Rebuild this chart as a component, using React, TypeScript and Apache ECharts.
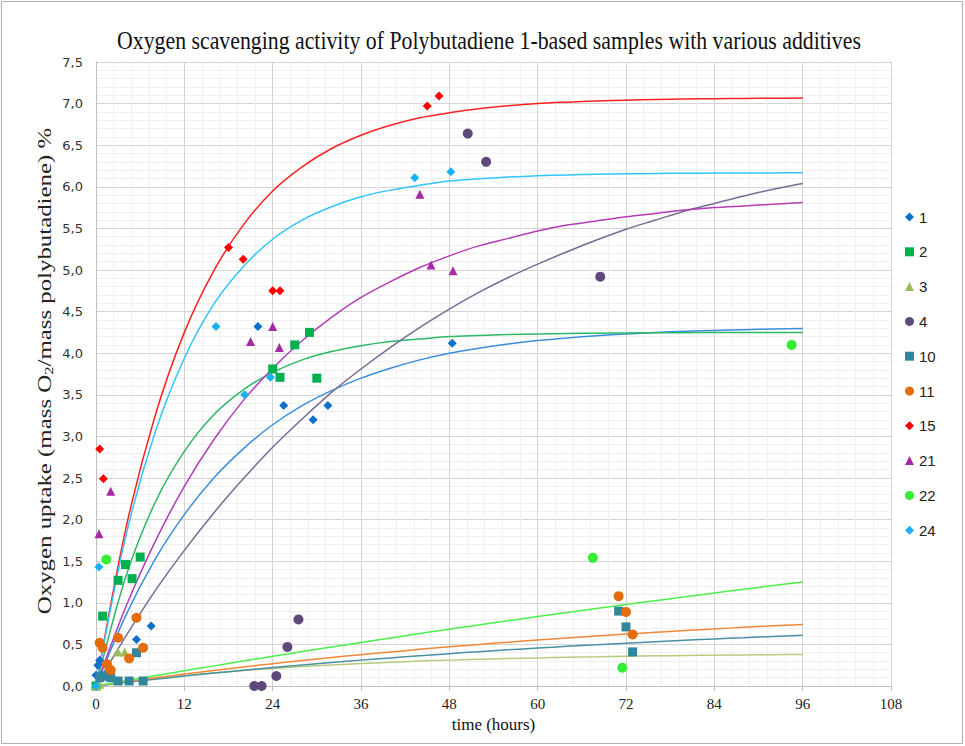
import React, { useEffect, useRef } from "react";
import * as echarts from "echarts";

// Series names (legend)
const SERIES_NAMES = ["1", "2", "3", "4", "10", "11", "15", "21", "22", "24"];

// Measured points [time (h), uptake %]
const S1 = [[0, 0.13], [0.25, 0.25], [0.5, 0.31], [5.5, 0.56], [7.5, 0.72], [22, 4.32], [25.5, 3.37], [29.5, 3.2], [31.5, 3.37], [48.4, 4.12]];
const S2 = [[0, 0], [0.9, 0.84], [3, 1.27], [4, 1.46], [4.9, 1.29], [6, 1.55], [24, 3.81], [25, 3.71], [27, 4.1], [29, 4.25], [30, 3.7]];
const S3 = [[0, 0], [0.5, 0.02], [3, 0.41], [3.9, 0.41]];
const S4 = [[21.5, 0], [22.5, 0], [24.5, 0.12], [26, 0.47], [27.5, 0.8], [50.5, 6.64], [53, 6.3], [68.5, 4.92]];
const S10 = [[0.5, 0.1], [1, 0.12], [1.5, 0.12], [2, 0.1], [3, 0.06], [4.5, 0.06], [5.5, 0.4], [6.4, 0.06], [71, 0.9], [72, 0.71], [72.9, 0.41]];
const S11 = [[0.5, 0.52], [0.9, 0.46], [1.5, 0.26], [2, 0.19], [3, 0.58], [4.5, 0.33], [5.5, 0.82], [6.4, 0.46], [71, 1.08], [72, 0.89], [72.9, 0.62]];
const S15 = [[0.5, 2.85], [1, 2.49], [18, 5.27], [20, 5.13], [24, 4.75], [25, 4.75], [45, 6.97], [46.6, 7.09]];
const S21 = [[0.4, 1.83], [2, 2.34], [21, 4.14], [24, 4.32], [24.9, 4.07], [44, 5.91], [45.5, 5.06], [48.5, 4.99]];
const S22 = [[1.4, 1.52], [67.5, 1.54], [71.5, 0.22], [94.5, 4.1]];
const S24 = [[0, 0], [0.4, 1.43], [16.3, 4.32], [20.2, 3.5], [23.7, 3.71], [43.3, 6.11], [48.2, 6.18]];

// Trend curves every 4 hours (0 … 96)
const CURVE_T = [0, 4, 8, 12, 16, 20, 24, 28, 32, 36, 40, 44, 48, 52, 56, 60, 64, 68, 72, 76, 80, 84, 88, 92, 96];
const C1 = [0, 0.84, 1.52, 2.06, 2.5, 2.85, 3.14, 3.37, 3.55, 3.7, 3.82, 3.92, 4.0, 4.06, 4.11, 4.152, 4.184, 4.21, 4.231, 4.249, 4.263, 4.274, 4.283, 4.29, 4.296];
const C2 = [0, 1.3, 2.2, 2.82, 3.26, 3.56, 3.77, 3.92, 4.02, 4.09, 4.14, 4.17, 4.2, 4.213, 4.224, 4.232, 4.237, 4.241, 4.244, 4.246, 4.247, 4.248, 4.249, 4.249, 4.25];
const C3 = [0, 0.047, 0.088, 0.125, 0.157, 0.186, 0.211, 0.233, 0.253, 0.27, 0.285, 0.299, 0.311, 0.321, 0.33, 0.338, 0.346, 0.352, 0.358, 0.363, 0.367, 0.371, 0.374, 0.377, 0.38];
const C4 = [0, 0.59, 1.14, 1.63, 2.08, 2.49, 2.87, 3.21, 3.53, 3.81, 4.07, 4.31, 4.53, 4.73, 4.91, 5.07, 5.22, 5.36, 5.49, 5.6, 5.71, 5.8, 5.89, 5.97, 6.04];
const C10 = [0, 0.042, 0.081, 0.119, 0.155, 0.189, 0.222, 0.253, 0.283, 0.311, 0.338, 0.364, 0.389, 0.413, 0.435, 0.456, 0.477, 0.496, 0.515, 0.533, 0.55, 0.566, 0.581, 0.596, 0.61];
const C11 = [0, 0.05, 0.098, 0.143, 0.187, 0.228, 0.268, 0.306, 0.342, 0.377, 0.409, 0.441, 0.471, 0.499, 0.527, 0.553, 0.578, 0.601, 0.624, 0.646, 0.666, 0.686, 0.705, 0.723, 0.74];
const C15 = [0, 1.87, 3.24, 4.25, 4.99, 5.54, 5.95, 6.24, 6.46, 6.62, 6.74, 6.83, 6.89, 6.938, 6.973, 7.0, 7.017, 7.031, 7.041, 7.049, 7.055, 7.059, 7.062, 7.064, 7.066];
const C21 = [0, 0.94, 1.73, 2.4, 2.96, 3.43, 3.82, 4.15, 4.43, 4.67, 4.86, 5.03, 5.17, 5.29, 5.38, 5.47, 5.54, 5.59, 5.64, 5.68, 5.72, 5.75, 5.77, 5.79, 5.81];
const C22 = [0, 0.062, 0.123, 0.183, 0.242, 0.3, 0.357, 0.414, 0.469, 0.524, 0.578, 0.631, 0.683, 0.734, 0.785, 0.834, 0.883, 0.932, 0.979, 1.026, 1.072, 1.118, 1.163, 1.207, 1.25];
const C24 = [0, 1.78, 3.04, 3.94, 4.59, 5.04, 5.37, 5.6, 5.76, 5.88, 5.96, 6.02, 6.07, 6.096, 6.117, 6.132, 6.143, 6.151, 6.156, 6.16, 6.163, 6.165, 6.166, 6.167, 6.168];

const POINTS = [S1, S2, S3, S4, S10, S11, S15, S21, S22, S24];
const CURVES = [C1, C2, C3, C4, C10, C11, C15, C21, C22, C24];

const MARKER_COLORS = ["#0B6FCB", "#00B050", "#9BBB59", "#5F497A", "#31859C", "#E46C0A", "#FF0000", "#A62AA6", "#33EE33", "#1AB0F5"];
const LINE_COLORS = ["#3A8EDC", "#2DB865", "#B5CC7F", "#7A6B92", "#4A8FA3", "#F0883A", "#FF2020", "#B43CB8", "#4CF04C", "#33C4FF"];
const SYMBOLS = ["diamond", "rect", "triangle", "circle", "rect", "circle", "diamond", "triangle", "circle", "diamond"];
const SYMBOL_SIZES = [9, 9, 9, 10, 9, 10, 9, 9, 10, 9];

const TITLE = "Oxygen scavenging activity of Polybutadiene 1-based samples with various additives";

export default function App() {
  const ref = useRef<HTMLDivElement>(null);
  useEffect(() => {
    document.body.style.margin = "0";
    if (!ref.current) return;
    const chart = echarts.init(ref.current, null, { renderer: "svg" });

    const lineSeries = CURVES.map((c, i) => ({
      name: SERIES_NAMES[i] + " trend",
      type: "line",
      data: CURVE_T.map((t, j) => [t, c[j]]),
      showSymbol: false,
      symbol: "none",
      smooth: 0.3,
      silent: true,
      z: 2,
      lineStyle: { color: LINE_COLORS[i], width: 1.5 },
      itemStyle: { color: LINE_COLORS[i] },
    }));

    const scatterSeries = POINTS.map((p, i) => ({
      name: SERIES_NAMES[i],
      type: "scatter",
      data: p,
      symbol: SYMBOLS[i],
      symbolSize: SYMBOL_SIZES[i],
      z: 3,
      itemStyle: { color: MARKER_COLORS[i], opacity: 1 },
    }));

    chart.setOption({
      animation: false,
      backgroundColor: "#ffffff",
      grid: { left: 96, right: 74, top: 62, bottom: 60, containLabel: false },
      legend: {
        data: SERIES_NAMES,
        orient: "vertical",
        left: 900,
        top: 204,
        itemWidth: 9,
        itemHeight: 9,
        itemGap: 18.8,
        textStyle: { fontFamily: "Liberation Sans", fontSize: 15, color: "#222", lineHeight: 16 },
        selectedMode: false,
      },
      xAxis: {
        type: "value",
        min: 0,
        max: 108,
        interval: 12,
        name: "time (hours)",
        nameLocation: "middle",
        nameGap: 27,
        nameTextStyle: { fontFamily: "Liberation Serif", fontSize: 17, color: "#111" },
        axisLine: { show: true, onZero: false, lineStyle: { color: "#BFBFBF", width: 1 } },
        axisTick: { show: true, length: 5, lineStyle: { color: "#BFBFBF" } },
        axisLabel: { fontFamily: "Liberation Serif", fontSize: 15, color: "#222", margin: 10 },
        splitLine: { show: true, lineStyle: { color: "#D4D4D4", width: 1 } },
        minorTick: { show: false, splitNumber: 5 },
        minorSplitLine: { show: true, lineStyle: { color: "#F0F0F0", width: 1 } },
      },
      yAxis: {
        type: "value",
        min: 0,
        max: 7.5,
        interval: 0.5,
        axisLine: { show: true, lineStyle: { color: "#BFBFBF", width: 1 } },
        axisTick: { show: false },
        axisLabel: {
          fontFamily: "DejaVu Sans",
          fontSize: 13,
          color: "#333",
          margin: 13,
          formatter: (v: number) => v.toFixed(1).replace(".", ","),
        },
        splitLine: { show: true, lineStyle: { color: "#D4D4D4", width: 1 } },
        minorTick: { show: false, splitNumber: 5 },
        minorSplitLine: { show: true, lineStyle: { color: "#F0F0F0", width: 1 } },
      },
      graphic: [
        {
          type: "rect",
          shape: { x: 1.5, y: 1.5, width: 961, height: 742 },
          style: { fill: "none", stroke: "#B0B0B0", lineWidth: 1 },
          silent: true,
        },
        {
          type: "text",
          x: 489,
          y: 40,
          scaleX: 1.0,
          scaleY: 1.15,
          style: {
            text: TITLE,
            fontFamily: "Liberation Serif",
            fontSize: 21.8,
            fill: "#111",
            textAlign: "center",
            textVerticalAlign: "middle",
          },
          silent: true,
        },
        {
          type: "text",
          x: 45,
          y: 371,
          rotation: Math.PI / 2,
          scaleX: 1.38,
          style: {
            text: "{a|Oxygen uptake (mass O}{s|2}{a|/mass polybutadiene) %}",
            textAlign: "center",
            textVerticalAlign: "middle",
            rich: {
              a: { fontFamily: "Liberation Serif", fontSize: 18, fill: "#222", lineHeight: 20 },
              s: { fontFamily: "Liberation Serif", fontSize: 12, fill: "#222", lineHeight: 12, verticalAlign: "bottom" },
            },
          },
          silent: true,
        },
      ],
      series: [...lineSeries, ...scatterSeries],
    });
    return () => chart.dispose();
  }, []);
  return <div ref={ref} style={{ width: 965, height: 746 }} />;
}
